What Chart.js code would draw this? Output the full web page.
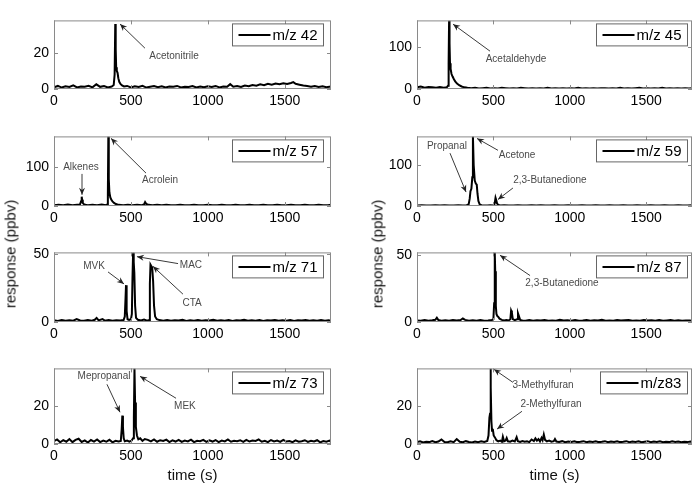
<!DOCTYPE html>
<html>
<head>
<meta charset="utf-8">
<script src="https://cdn.jsdelivr.net/npm/chart.js@4.4.0/dist/chart.umd.min.js"></script>
<style>
  html, body { margin: 0; padding: 0; background: #fff; }
  #wrap { position: relative; width: 693px; height: 487px; overflow: hidden; }
  canvas { position: absolute; }
  .ylab {
    position: absolute;
    font: 15px "Liberation Sans", Arial, sans-serif;
    color: #111;
    white-space: nowrap;
    transform: translate(-50%, -50%) rotate(-90deg);
  }
</style>
</head>
<body>
<div id="wrap">
  <canvas id="c42" width="340" height="102" style="left:0px;top:7px"></canvas>
  <canvas id="c45" width="330" height="102" style="left:363px;top:7px"></canvas>
  <canvas id="c57" width="340" height="103" style="left:0px;top:123px"></canvas>
  <canvas id="c59" width="330" height="103" style="left:363px;top:123px"></canvas>
  <canvas id="c71" width="340" height="103" style="left:0px;top:239px"></canvas>
  <canvas id="c87" width="330" height="103" style="left:363px;top:239px"></canvas>
  <canvas id="c73" width="340" height="130" style="left:0px;top:355px"></canvas>
  <canvas id="c83" width="330" height="130" style="left:363px;top:355px"></canvas>
  <div class="ylab" style="left:10px;top:254px">response (ppbv)</div>
  <div class="ylab" style="left:377px;top:254px">response (ppbv)</div>
</div>
<script>
// 8 trazas m/z, tiempo 0-1800 s
const X_MAX = 1800;
const X_TICKS = [0, 500, 1000, 1500];
const FONT = '"Liberation Sans", Arial, sans-serif';

// m/z 42
const t42 = [0, 25, 50, 75, 100, 125, 150, 175, 200, 225,
  250, 275, 300, 325, 350, 375, 388, 394, 398, 401,
  404, 408, 413, 418, 424, 432, 442, 455, 475, 500,
  525, 550, 575, 600, 625, 650, 675, 700, 725, 750,
  775, 800, 825, 850, 875, 900, 925, 950, 975, 1000,
  1025, 1050, 1075, 1100, 1125, 1145, 1165, 1190, 1215, 1240,
  1265, 1290, 1315, 1340, 1365, 1390, 1415, 1440, 1465, 1490,
  1515, 1540, 1555, 1570, 1595, 1620, 1645, 1670, 1695, 1720,
  1745, 1770, 1800];
const v42 = [1.0, 1.7, 0.8, 1.5, 1.1, 2.0, 0.9, 1.4, 1.2, 1.8,
  0.9, 2.6, 1.2, 1.6, 0.9, 1.4, 2.2, 8, 36, 22,
  12, 10, 9, 6, 4, 2.8, 2.0, 1.4, 1.7, 0.9,
  1.5, 1.1, 1.8, 0.8, 1.3, 1.6, 1.0, 1.5, 0.8, 1.4,
  1.2, 1.7, 0.9, 1.3, 1.1, 1.6, 0.8, 1.4, 1.0, 1.5,
  1.1, 1.7, 0.9, 1.4, 1.2, 2.7, 1.3, 1.6, 1.1, 1.9,
  1.5, 2.2, 1.8, 2.6, 2.1, 2.9, 2.4, 3.0, 2.6, 3.2,
  2.8, 3.3, 3.8, 2.9, 2.4, 1.9, 1.6, 1.2, 1.7, 1.1,
  1.5, 1.0, 1.4];

// m/z 45
const t45 = [0, 25, 50, 75, 100, 125, 150, 175, 195, 203,
  207, 210, 213, 216, 220, 226, 233, 241, 250, 262,
  276, 292, 310, 330, 355, 380, 405, 430, 455, 480,
  505, 530, 555, 580, 605, 630, 655, 680, 705, 730,
  755, 780, 805, 830, 855, 880, 905, 930, 955, 980,
  1005, 1030, 1055, 1080, 1105, 1130, 1155, 1180, 1205, 1230,
  1255, 1280, 1305, 1330, 1355, 1380, 1405, 1430, 1455, 1480,
  1505, 1530, 1555, 1580, 1605, 1630, 1655, 1680, 1705, 1730,
  1755, 1780, 1800];
const v45 = [4, 6, 3, 5, 4, 3, 5, 3, 4, 8,
  60, 165, 110, 62, 48, 36, 30, 24, 18, 13,
  9, 6, 4, 3, 2, 3, 1, 2, 3, 1,
  2, 1, 3, 2, 1, 2, 1, 3, 2, 1,
  2, 1, 2, 1, 3, 1, 2, 1, 2, 1,
  2, 1, 3, 1, 2, 1, 2, 1, 2, 2,
  1, 2, 1, 3, 1, 2, 1, 2, 3, 1,
  2, 1, 2, 1, 3, 1, 2, 1, 2, 1,
  2, 1, 2];

// m/z 57
const t57 = [0, 30, 60, 90, 120, 150, 168, 176, 180, 183,
  187, 193, 202, 220, 250, 280, 310, 335, 346, 350,
  353, 356, 360, 366, 372, 380, 390, 402, 420, 450,
  480, 510, 540, 570, 585, 592, 600, 615, 640, 670,
  700, 730, 760, 790, 820, 850, 880, 910, 940, 970,
  1000, 1030, 1060, 1090, 1120, 1150, 1180, 1210, 1240, 1270,
  1300, 1330, 1360, 1390, 1420, 1450, 1480, 1510, 1540, 1570,
  1600, 1630, 1660, 1690, 1720, 1750, 1780, 1800];
const v57 = [2, 3, 2, 4, 2, 3, 3, 12, 24, 16,
  8, 5, 3, 2, 3, 2, 4, 2, 4, 30,
  180, 70, 35, 22, 17, 12, 8, 5, 3, 2,
  3, 2, 3, 2, 4, 10, 5, 3, 2, 3,
  2, 3, 2, 2, 3, 2, 2, 3, 2, 2,
  3, 2, 2, 3, 2, 2, 3, 2, 2, 3,
  2, 2, 3, 2, 2, 3, 2, 2, 3, 2,
  2, 3, 2, 2, 3, 2, 2, 3];

// m/z 59
const t59 = [0, 30, 60, 90, 120, 150, 180, 210, 240, 270,
  300, 325, 338, 345, 350, 356, 362, 366, 371, 378,
  385, 391, 396, 402, 410, 422, 440, 460, 480, 500,
  508, 514, 519, 524, 531, 545, 570, 600, 630, 660,
  690, 720, 750, 780, 810, 840, 870, 900, 930, 960,
  990, 1020, 1050, 1080, 1110, 1140, 1170, 1200, 1230, 1260,
  1290, 1320, 1350, 1380, 1410, 1440, 1470, 1500, 1530, 1560,
  1590, 1620, 1650, 1680, 1710, 1740, 1770, 1800];
const v59 = [1, 2, 1, 1, 2, 1, 2, 1, 1, 2,
  1, 2, 4, 18, 36, 42, 70, 170, 100, 62,
  55, 52, 30, 12, 4, 2, 1, 1, 2, 1,
  5, 20, 14, 6, 3, 1, 2, 1, 1, 2,
  1, 1, 2, 1, 2, 1, 1, 2, 1, 1,
  2, 1, 1, 2, 1, 1, 2, 1, 1, 2,
  1, 1, 2, 1, 1, 2, 1, 1, 2, 1,
  1, 2, 1, 1, 2, 1, 1, 2];

// m/z 71
const t71 = [0, 25, 50, 75, 100, 125, 147, 170, 195, 220,
  245, 265, 277, 290, 315, 330, 355, 380, 405, 430,
  452, 460, 465, 468, 472, 478, 488, 500, 506, 510,
  514, 518, 522, 527, 533, 545, 565, 585, 605, 618,
  623, 627, 632, 638, 644, 650, 657, 668, 685, 710,
  735, 760, 785, 810, 835, 860, 885, 910, 935, 960,
  985, 1010, 1035, 1060, 1085, 1110, 1135, 1160, 1185, 1210,
  1235, 1260, 1285, 1310, 1335, 1360, 1385, 1410, 1435, 1460,
  1485, 1510, 1535, 1560, 1585, 1610, 1635, 1660, 1685, 1710,
  1735, 1760, 1785, 1800];
const v71 = [1.2, 0.8, 1.5, 0.9, 1.3, 1.0, 2.2, 1.1, 0.9, 1.4,
  1.0, 1.6, 3.0, 1.2, 2.2, 1.0, 1.4, 0.9, 1.3, 1.1,
  1.4, 4, 18, 27, 8, 2.0, 1.5, 2.0, 6, 32,
  51, 44, 36, 12, 3, 1.6, 1.2, 1.8, 1.0, 1.4,
  28, 42, 41, 40, 30, 12, 4, 2.0, 1.4, 1.0,
  1.5, 0.9, 1.3, 1.1, 1.6, 0.8, 1.2, 1.0, 1.5, 0.9,
  1.3, 1.1, 1.6, 0.9, 1.2, 1.0, 1.5, 0.8, 1.3, 1.1,
  1.6, 0.9, 1.2, 1.0, 1.4, 0.8, 1.3, 1.1, 1.5, 0.9,
  1.2, 1.0, 1.4, 0.8, 1.3, 1.1, 1.5, 0.9, 1.2, 1.0,
  1.4, 0.9, 1.2, 1.0];

// m/z 87
const t87 = [0, 25, 50, 75, 100, 120, 130, 140, 160, 185,
  210, 235, 260, 285, 300, 315, 340, 365, 390, 415,
  440, 465, 490, 500, 505, 509, 512, 516, 520, 525,
  531, 540, 555, 570, 585, 600, 611, 616, 621, 627,
  640, 655, 661, 667, 675, 690, 710, 735, 760, 785,
  810, 835, 860, 885, 910, 935, 960, 985, 1010, 1035,
  1060, 1085, 1110, 1135, 1160, 1185, 1210, 1235, 1260, 1285,
  1310, 1335, 1360, 1385, 1410, 1435, 1460, 1485, 1510, 1535,
  1560, 1585, 1610, 1635, 1660, 1685, 1710, 1735, 1760, 1785,
  1800];
const v87 = [1.2, 0.9, 1.4, 1.0, 1.3, 1.6, 3.2, 1.5, 1.0, 1.3,
  0.9, 1.4, 1.1, 1.5, 2.6, 1.6, 1.0, 1.3, 0.9, 1.4,
  1.0, 1.2, 1.5, 2.0, 14, 52, 38, 12, 6, 4.5,
  4, 2.5, 1.6, 1.2, 1.5, 1.1, 2.0, 8.5, 7, 2.2,
  1.4, 2.0, 6.5, 4.5, 1.6, 1.2, 1.0, 1.4, 0.9, 1.3,
  1.1, 1.5, 0.9, 1.2, 1.0, 1.6, 1.1, 1.3, 0.9, 1.4,
  1.0, 1.2, 1.5, 0.9, 1.3, 1.1, 1.6, 1.0, 1.2, 0.9,
  1.4, 1.1, 1.3, 1.5, 1.0, 1.2, 0.9, 1.4, 1.1, 1.3,
  1.0, 1.5, 0.9, 1.2, 1.4, 1.0, 1.3, 0.9, 1.2, 1.1,
  1.0];

// m/z 73
const t73 = [0, 20, 40, 60, 80, 100, 120, 140, 160, 180,
  200, 220, 240, 260, 280, 300, 320, 340, 360, 380,
  400, 420, 434, 440, 444, 448, 453, 460, 475, 490,
  505, 514, 519, 523, 527, 532, 539, 548, 560, 575,
  590, 610, 630, 650, 670, 690, 710, 730, 750, 770,
  790, 810, 830, 850, 870, 890, 910, 930, 950, 970,
  990, 1010, 1030, 1050, 1070, 1090, 1110, 1130, 1150, 1170,
  1190, 1210, 1230, 1250, 1270, 1290, 1310, 1330, 1350, 1370,
  1390, 1410, 1430, 1450, 1470, 1490, 1510, 1530, 1550, 1570,
  1590, 1610, 1630, 1650, 1670, 1690, 1710, 1730, 1750, 1770,
  1790, 1800];
const v73 = [1.5, 2.4, 0.9, 2.0, 1.2, 2.6, 1.0, 2.2, 2.8, 1.1,
  1.9, 0.8, 2.1, 1.3, 2.4, 1.0, 1.8, 1.2, 2.2, 0.9,
  1.7, 1.3, 1.6, 8, 15, 9, 3, 1.4, 1.8, 1.2,
  1.8, 3, 14, 40, 22, 9, 4.5, 2.5, 3.0, 1.6,
  2.6, 2.2, 1.4, 2.4, 1.2, 2.0, 1.6, 2.3, 1.0, 1.9,
  1.3, 2.2, 1.1, 1.8, 1.4, 2.3, 1.0, 1.7, 1.5, 2.2,
  1.1, 1.9, 1.3, 2.1, 1.0, 1.8, 1.4, 2.4, 1.2, 1.7,
  1.5, 2.0, 1.1, 2.2, 1.3, 1.8, 1.6, 2.4, 1.2, 1.7,
  1.0, 2.1, 1.4, 1.8, 1.1, 2.2, 1.3, 1.6, 1.0, 1.9,
  1.2, 1.5, 2.0, 1.1, 1.7, 1.3, 2.0, 0.9, 1.6, 1.2,
  1.8, 1.0];

// m/z 83
const t83 = [0, 20, 40, 60, 80, 100, 120, 140, 160, 180,
  200, 220, 240, 260, 280, 300, 320, 340, 360, 380,
  400, 420, 440, 460, 468, 474, 478, 481, 484, 487,
  491, 496, 502, 510, 520, 532, 545, 556, 562, 570,
  580, 587, 595, 610, 625, 640, 652, 660, 675, 690,
  705, 720, 735, 750, 765, 775, 785, 795, 805, 815,
  822, 830, 838, 850, 865, 880, 895, 903, 912, 930,
  950, 970, 990, 1010, 1030, 1050, 1070, 1090, 1110, 1130,
  1150, 1170, 1190, 1210, 1230, 1250, 1270, 1290, 1310, 1330,
  1350, 1370, 1390, 1410, 1430, 1450, 1470, 1490, 1510, 1530,
  1550, 1570, 1590, 1610, 1630, 1650, 1670, 1690, 1710, 1730,
  1750, 1770, 1790, 1800];
const v83 = [1.0, 1.4, 0.8, 1.2, 1.0, 1.5, 0.9, 1.3, 2.4, 1.1,
  0.9, 1.4, 1.0, 2.6, 1.2, 0.9, 1.5, 1.1, 0.8, 1.3,
  1.0, 1.4, 1.1, 1.6, 4.5, 14, 16, 40, 30, 12,
  7, 8, 4.5, 3.5, 2.0, 1.4, 1.8, 1.2, 3.8, 1.4,
  1.8, 3.2, 1.4, 1.2, 1.8, 1.3, 3.6, 1.5, 1.1, 1.6,
  1.2, 1.4, 1.0, 2.4, 1.6, 3.0, 1.8, 2.6, 1.4, 3.2,
  2.0, 5.0, 2.2, 1.4, 1.8, 1.2, 1.5, 2.6, 1.3, 1.1,
  1.5, 0.9, 1.3, 1.1, 1.4, 1.0, 1.2, 1.5, 0.9, 1.3,
  1.1, 1.4, 1.0, 1.2, 1.5, 0.9, 1.3, 1.1, 1.4, 1.0,
  1.2, 1.5, 1.0, 1.3, 1.1, 1.4, 0.9, 1.2, 1.5, 1.0,
  1.3, 1.1, 1.4, 0.9, 1.2, 1.0, 1.4, 1.1, 1.3, 0.9,
  1.2, 1.0, 1.3, 1.1];

// ticks del eje y por panel
const yTicks20 = [0, 20];
const yTicks50 = [0, 50];
const yTicks100 = [0, 100];

// etiquetas de compuestos: texto en `at`, flecha de `from` a `to` (coordenadas de datos)
const notes42 = [{ text: "Acetonitrile", at: [780, 18], from: [591, 22.6], to: [429, 36] }];
const notes45 = [{ text: "Acetaldehyde", at: [648, 71], from: [478, 91], to: [236, 156] }];
const notes57 = [
  { text: "Alkenes", at: [175, 100], from: [182, 83], to: [182, 29] },
  { text: "Acrolein", at: [689, 66], from: [598, 85], to: [370, 175] },
];
const notes59 = [
  { text: "Propanal", at: [196, 146], from: [216, 129], to: [321, 34] },
  { text: "Acetone", at: [655, 124], from: [530, 136], to: [393, 165] },
  { text: "2,3-Butanedione", at: [870, 62], from: [628, 44], to: [530, 16] },
];
const notes71 = [
  { text: "MVK", at: [260, 40.8], from: [351, 36.7], to: [455, 27.9] },
  { text: "MAC", at: [890, 41.5], from: [806, 42.8], to: [539, 47.9] },
  { text: "CTA", at: [897, 13.9], from: [838, 20.4], to: [643, 40.8] },
];
const notes87 = [{ text: "2,3-Butanedione", at: [949, 29], from: [740, 34.7], to: [543, 49.9] }];
const notes73 = [
  { text: "Mepropanal", at: [325, 35.8], from: [344, 31.6], to: [429, 16.8] },
  { text: "MEK", at: [851, 19.75], from: [793, 24.2], to: [559, 35.8] },
];
const notes83 = [
  { text: "3-Methylfuran", at: [825, 30.9], from: [628, 32.6], to: [504, 39.5] },
  { text: "2-Methylfuran", at: [877, 21.2], from: [687, 17.3], to: [524, 7.9] },
];

// marco, ticks hacia dentro, leyenda con recuadro y anotaciones (estilo MATLAB)
const overlay = {
  id: "overlay",
  afterDatasetsDraw(chart, args, opts) {
    const { ctx, chartArea: a, scales: { x, y } } = chart;
    ctx.save();

    // anotaciones
    ctx.font = `10px ${FONT}`;
    ctx.textAlign = "center";
    ctx.textBaseline = "middle";
    (opts.notes || []).forEach((n) => {
      ctx.fillStyle = "#4a4a4a";
      ctx.fillText(n.text, x.getPixelForValue(n.at[0]), y.getPixelForValue(n.at[1]));
      const x0 = x.getPixelForValue(n.from[0]), y0 = y.getPixelForValue(n.from[1]);
      const x1 = x.getPixelForValue(n.to[0]), y1 = y.getPixelForValue(n.to[1]);
      ctx.strokeStyle = "#3a3a3a";
      ctx.lineWidth = 1;
      ctx.beginPath();
      ctx.moveTo(x0, y0);
      ctx.lineTo(x1, y1);
      ctx.stroke();
      const ang = Math.atan2(y1 - y0, x1 - x0);
      const L = 7, W = 3;
      const c = Math.cos(ang), s = Math.sin(ang);
      ctx.fillStyle = "#222";
      ctx.beginPath();
      ctx.moveTo(x1, y1);
      ctx.lineTo(x1 - L * c + W * s, y1 - L * s - W * c);
      ctx.lineTo(x1 - L * 0.7 * c, y1 - L * 0.7 * s);
      ctx.lineTo(x1 - L * c - W * s, y1 - L * s + W * c);
      ctx.closePath();
      ctx.fill();
    });

    // marco y ticks
    ctx.strokeStyle = "#8a8a8a";
    ctx.lineWidth = 1;
    ctx.strokeRect(a.left + 0.5, a.top + 0.5, a.width - 1, a.height - 1);
    ctx.beginPath();
    x.ticks.forEach((t) => {
      const px = Math.round(x.getPixelForValue(t.value)) + 0.5;
      ctx.moveTo(px, a.bottom); ctx.lineTo(px, a.bottom - 4);
      ctx.moveTo(px, a.top); ctx.lineTo(px, a.top + 4);
    });
    y.ticks.forEach((t) => {
      const py = Math.round(y.getPixelForValue(t.value)) + 0.5;
      ctx.moveTo(a.left, py); ctx.lineTo(a.left + 4, py);
      ctx.moveTo(a.right, py); ctx.lineTo(a.right - 4, py);
    });
    ctx.stroke();

    // leyenda
    const label = chart.data.datasets[0].label;
    ctx.font = `15px ${FONT}`;
    const tw = ctx.measureText(label).width;
    const h = 22, lineLen = 32;
    const w = Math.round(6 + lineLen + 3 + tw + 5);
    const bx = Math.round(a.right - opts.gap - w) + 0.5;
    const by = a.top + 3 + 0.5;
    ctx.fillStyle = "#fff";
    ctx.fillRect(bx, by, w, h);
    ctx.strokeStyle = "#666";
    ctx.strokeRect(bx, by, w, h);
    ctx.strokeStyle = "#000";
    ctx.lineWidth = 2;
    ctx.beginPath();
    ctx.moveTo(bx + 6, by + h / 2);
    ctx.lineTo(bx + 6 + lineLen, by + h / 2);
    ctx.stroke();
    ctx.fillStyle = "#000";
    ctx.textAlign = "left";
    ctx.fillText(label, bx + 6 + lineLen + 2, by + h / 2 + 1);

    ctx.restore();
  },
};

function makeChart(id, label, times, values, yMax, yTickList, notes, right, bottom) {
  const tickFont = { family: FONT, size: 14 };
  return new Chart(document.getElementById(id), {
    type: "line",
    data: {
      datasets: [{
        label,
        data: times.map((t, i) => ({ x: t, y: values[i] })),
        borderColor: "#000",
        borderWidth: 2,
        pointRadius: 0,
        tension: 0,
      }],
    },
    options: {
      responsive: false,
      animation: false,
      events: [],
      layout: { padding: { top: 8, left: 0, bottom: 0, right: right ? 1 : 9 } },
      plugins: {
        legend: { display: false },
        tooltip: { enabled: false },
        overlay: { notes, gap: right ? 5 : 8 },
      },
      scales: {
        x: {
          type: "linear",
          min: 0,
          max: X_MAX,
          grid: { display: false, drawTicks: false },
          border: { display: false },
          ticks: {
            padding: 4, maxRotation: 0, autoSkip: false,
            color: "#000", font: tickFont, callback: (v) => String(v),
          },
          afterBuildTicks: (s) => { s.ticks = X_TICKS.map((v) => ({ value: v })); },
          title: { display: bottom, text: "time (s)", color: "#111", font: { family: FONT, size: 15 }, padding: 0 },
          afterFit: (s) => { s.height = bottom ? 41 : 20; },
        },
        y: {
          min: 0,
          max: yMax,
          grid: { display: false, drawTicks: false },
          border: { display: false },
          ticks: {
            padding: 5, autoSkip: false,
            color: "#000", font: tickFont, callback: (v) => String(v),
          },
          afterBuildTicks: (s) => { s.ticks = yTickList.map((v) => ({ value: v })); },
          afterFit: (s) => { s.width = 54; },
        },
      },
    },
    plugins: [overlay],
  });
}

makeChart("c42", "m/z 42", t42, v42, 38, yTicks20, notes42, false, false);
makeChart("c45", "m/z 45", t45, v45, 165, yTicks100, notes45, true, false);
makeChart("c57", "m/z 57", t57, v57, 180, yTicks100, notes57, false, false);
makeChart("c59", "m/z 59", t59, v59, 170, yTicks100, notes59, true, false);
makeChart("c71", "m/z 71", t71, v71, 51, yTicks50, notes71, false, false);
makeChart("c87", "m/z 87", t87, v87, 52, yTicks50, notes87, true, false);
makeChart("c73", "m/z 73", t73, v73, 40, yTicks20, notes73, false, true);
makeChart("c83", "m/z83", t83, v83, 40, yTicks20, notes83, true, true);
</script>
</body>
</html>
